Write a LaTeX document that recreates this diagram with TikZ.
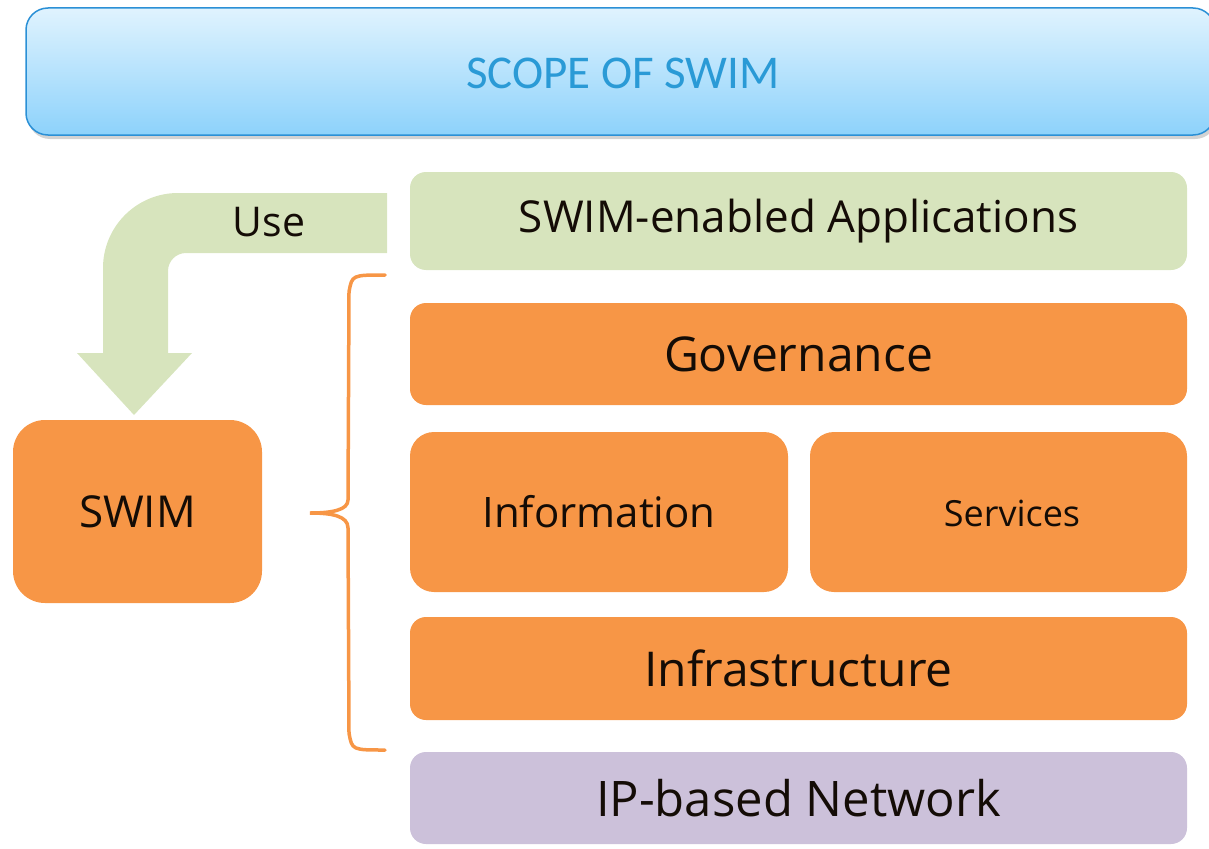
\documentclass[tikz,border=0pt]{standalone}
\usepackage{fontspec}
\setmainfont{Open Sans}
\newfontfamily\titlefont{Carlito}
\usetikzlibrary{shadows}
\definecolor{swimorange}{HTML}{F79646}
\definecolor{swimgreen}{HTML}{D7E4BD}
\definecolor{swimpurple}{HTML}{CCC1DA}
\definecolor{titleblue}{HTML}{2A9AD6}
\definecolor{titleedge}{HTML}{2B90D6}
\definecolor{titletop}{HTML}{E0F3FE}
\definecolor{titlebot}{HTML}{8DD2FB}
\definecolor{inktext}{HTML}{140C06}
\tikzset{
  layer/.style={rounded corners=16pt, inner sep=0pt, text=inktext},
  fsize/.style={font=\fontsize{#1}{#1}\selectfont}
}
\begin{document}
\begin{tikzpicture}[x=1pt,y=-1pt]
   \useasboundingbox (0,0) rectangle (1209,848);
   \node[rounded corners=22pt, draw=titleedge, line width=1.5pt, top color=titletop, bottom color=titlebot, drop shadow={shadow xshift=2pt, shadow yshift=-4pt, opacity=0.35}, minimum width=1189pt, minimum height=127pt, inner sep=0pt] (title) at (620.5,71.5) {};
   \node[text=titleblue, font=\titlefont\fontsize{47}{47}\selectfont] (titletext) at (623,73) {SCOPE OF SWIM};
   % use arrow
   \fill[swimgreen] (387,193) -- (178,193) arc(90:180:75pt) -- (103,353) -- (77,353) -- (134,415) -- (192,353) -- (168,353) -- (168,271) arc(180:90:18pt) -- (387,253) -- cycle;
   \node[text=inktext, fsize=41] (use) at (269,222) {Use};
   % layers
   \node[layer, fill=swimgreen, minimum width=777pt, minimum height=98pt, fsize=44] (apps) at (798.5,221) {SWIM-enabled Applications};
   \node[layer, fill=swimorange, minimum width=777pt, minimum height=102pt, fsize=48] (gov) at (798.5,354) {Governance};
   \node[layer, fill=swimorange, rounded corners=24pt, minimum width=378pt, minimum height=160pt, fsize=42] (info) at (599,512) {Information};
   \node[layer, fill=swimorange, rounded corners=24pt, minimum width=377pt, minimum height=160pt] (serv) at (998.5,512) {};
   \node[text=inktext, fsize=36] (servtext) at (1012,513) {Services};
   \node[layer, fill=swimorange, minimum width=777pt, minimum height=103pt, fsize=48] (infra) at (798.5,668.5) {Infrastructure};
   \node[layer, fill=swimpurple, minimum width=777pt, minimum height=92pt, fsize=49] (ipnet) at (798.5,798) {IP-based Network};
   \node[layer, fill=swimorange, rounded corners=32pt, minimum width=249pt, minimum height=183pt, fsize=44] (swim) at (137.5,511.5) {SWIM};
   % brace
   \draw[swimorange, line width=3.5pt, line cap=round] (385,275) .. controls (352,275) .. (349,292) -- (348,500) .. controls (348,510) and (332,513) .. (310,513) .. controls (332,513) and (348,516) .. (348,528) -- (349,733) .. controls (352,750) .. (385,750);
\end{tikzpicture}
\end{document}
